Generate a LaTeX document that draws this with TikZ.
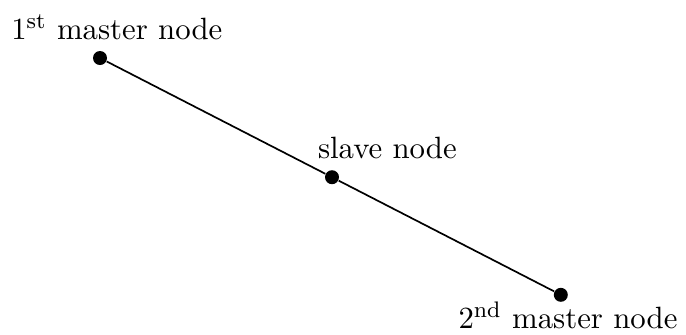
\documentclass[tikz,border=0pt,11pt]{standalone}
\usepackage{amsmath}
\usetikzlibrary{positioning}

\begin{document}
\begin{tikzpicture}[
    dot/.style={circle, fill=black, inner sep=0pt, minimum size=0.175cm},
    wire/.style={semithick}
]

    % fix the margins
    \useasboundingbox (0,0) rectangle (8.575,4.175);

    % Master and slave nodes
    \node[dot] (m1) at (1.25,3.45) {};
    \node[dot] (s) at (4.15,1.96) {};
    \node[dot] (m2) at (7.01,0.49) {};

    % Connection through the slave
    \draw[wire] (m1) -- (s) -- (m2);

    % Labels
    \node[above=0pt of m1, xshift=0.21cm] (m1label) {$1^{\text{st}}$ master node};
    \node[above=0pt of s, anchor=south west, xshift=-0.31cm] (slabel) {slave node};
    \node[below=-4pt of m2, xshift=0.09cm] (m2label) {$2^{\text{nd}}$ master node};

\end{tikzpicture}
\end{document}
